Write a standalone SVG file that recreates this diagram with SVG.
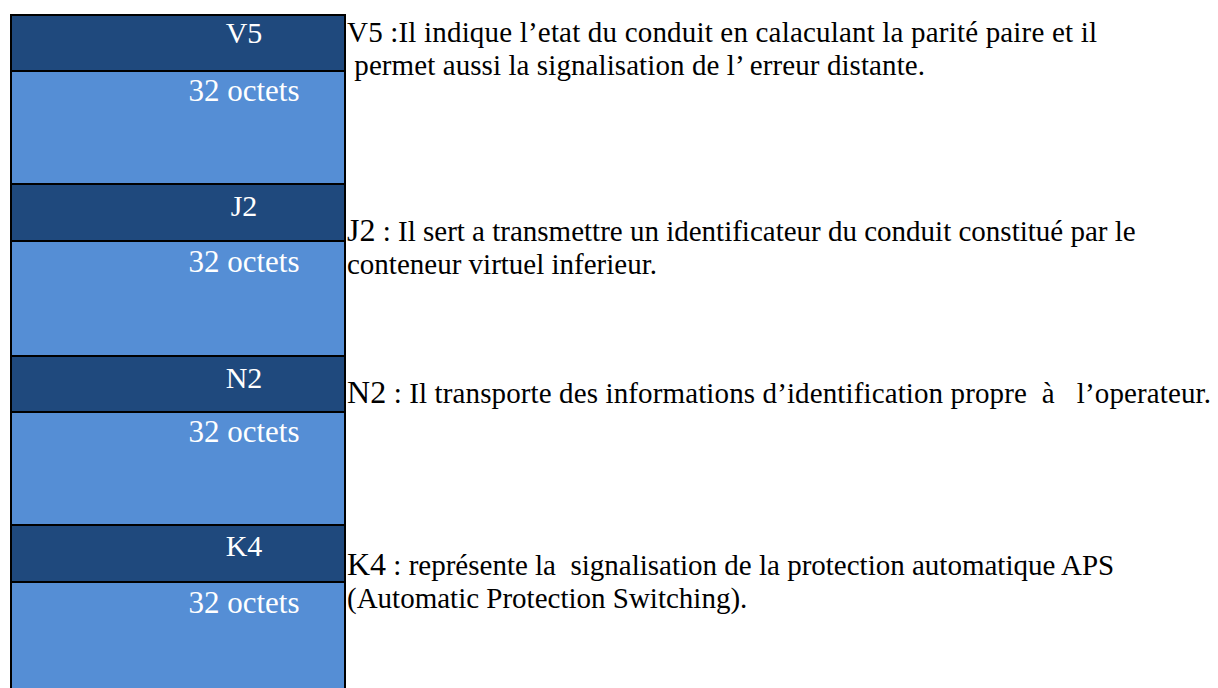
<svg xmlns="http://www.w3.org/2000/svg" width="1218" height="688" viewBox="0 0 1218 688">
<style>
.bar{fill:#1F497D;stroke:#000;stroke-width:2}
.body{fill:#558ED5;stroke:#000;stroke-width:2}
.lbl{font-family:"Liberation Serif","Times New Roman",serif;font-size:30px;fill:#fff;text-anchor:middle}
.oct{font-family:"Liberation Serif","Times New Roman",serif;font-size:31px;fill:#fff;text-anchor:middle}
.desc{font-family:"Liberation Serif","Times New Roman",serif;font-size:29px;fill:#000}
.big{font-size:32px}
</style>
<rect width="1218" height="688" fill="#fff"/>
<g id="v5">
<rect class="bar" x="11" y="15" width="334" height="56"/>
<text class="lbl" x="244" y="43">V5</text>
<rect class="body" x="11" y="71" width="334" height="113"/>
<text class="oct" x="244" y="101">32 octets</text>
<text class="desc" x="347" y="42" textLength="750" lengthAdjust="spacing">V5 :Il indique l’etat du conduit en calaculant la parité paire et il</text>
<text class="desc" x="347" y="75" xml:space="preserve" textLength="578" lengthAdjust="spacing"> permet aussi la signalisation de l’ erreur distante.</text>
</g>
<g id="j2">
<rect class="bar" x="11" y="184" width="334" height="57"/>
<text class="lbl" x="244" y="216">J2</text>
<rect class="body" x="11" y="241" width="334" height="115"/>
<text class="oct" x="244" y="272">32 octets</text>
<text class="desc" x="347" y="241"><tspan class="big">J2</tspan> : Il sert a transmettre un identificateur du conduit constitué par le</text>
<text class="desc" x="347" y="274">conteneur virtuel inferieur.</text>
</g>
<g id="n2">
<rect class="bar" x="11" y="356" width="334" height="56"/>
<text class="lbl" x="244" y="388">N2</text>
<rect class="body" x="11" y="412" width="334" height="113"/>
<text class="oct" x="244" y="442">32 octets</text>
<text class="desc" x="347" y="403" xml:space="preserve" textLength="864" lengthAdjust="spacing"><tspan class="big">N2</tspan> : Il transporte des informations d’identification propre  à   l’operateur.</text>
</g>
<g id="k4">
<rect class="bar" x="11" y="525" width="334" height="57"/>
<text class="lbl" x="244" y="556">K4</text>
<rect class="body" x="11" y="582" width="334" height="112"/>
<text class="oct" x="244" y="613">32 octets</text>
<text class="desc" x="347" y="575" xml:space="preserve"><tspan class="big">K4</tspan> : représente la  signalisation de la protection automatique APS</text>
<text class="desc" x="347" y="608">(Automatic Protection Switching).</text>
</g>
<g id="connectors"/>
</svg>
